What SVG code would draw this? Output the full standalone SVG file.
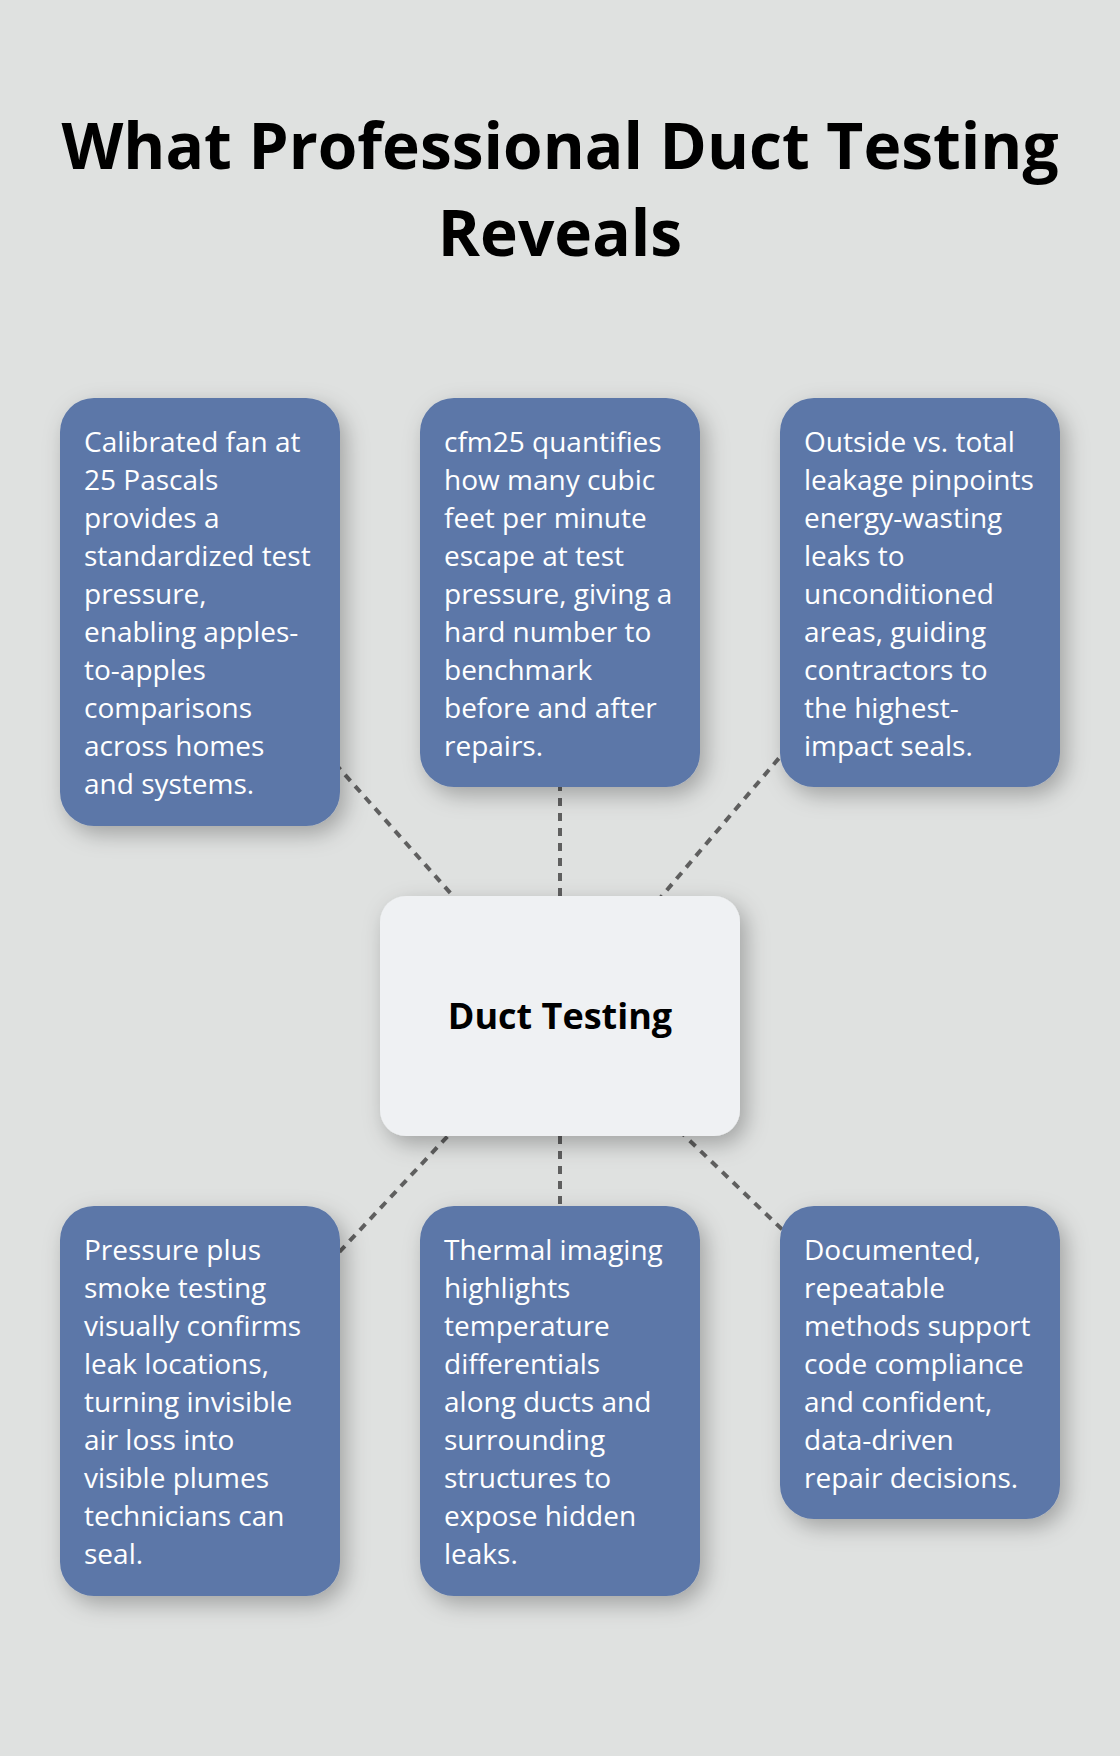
<svg xmlns="http://www.w3.org/2000/svg" width="1120" height="1756" viewBox="0 0 1120 1756">
<defs>
<style>
.bg{fill:#dfe1e0}
.title{font-family:"Open Sans","Noto Sans",sans-serif;font-weight:700;font-size:64px;fill:#000;text-anchor:middle}
.card{fill:#5c77a8}
.hub{fill:#eff1f3}
.txt{font-family:"Open Sans","Noto Sans",sans-serif;font-size:28px;fill:#ffffff}
.hubtxt{font-family:"Open Sans","Noto Sans",sans-serif;font-weight:700;font-size:36px;fill:#000;text-anchor:middle}
.conn{stroke:#5f5f5f;stroke-width:4;stroke-dasharray:8 7;fill:none}
</style>
<filter id="sh" x="-25%" y="-25%" width="160%" height="160%">
<feDropShadow dx="6" dy="8" stdDeviation="11" flood-color="#000" flood-opacity="0.28"/>
</filter>
</defs>
<rect class="bg" x="0" y="0" width="1120" height="1756"/>
<g id="title">
<text class="title" x="560" y="169">What Professional Duct Testing</text>
<text class="title" x="560" y="256">Reveals</text>
</g>
<g id="connectors">
<line class="conn" x1="560" y1="1016" x2="200" y2="612"/>
<line class="conn" x1="560" y1="1016" x2="560" y2="592"/>
<line class="conn" x1="560" y1="1016" x2="920" y2="592"/>
<line class="conn" x1="560" y1="1016" x2="200" y2="1401"/>
<line class="conn" x1="560" y1="1016" x2="560" y2="1401"/>
<line class="conn" x1="560" y1="1016" x2="920" y2="1362"/>
</g>
<g id="node-hub">
<rect class="hub" filter="url(#sh)" x="380" y="896" width="360" height="240" rx="26"/>
<text class="hubtxt" x="560" y="1029">Duct Testing</text>
</g>
<g id="node-calibrated-fan">
<rect class="card" filter="url(#sh)" x="60" y="398" width="280" height="428" rx="34"/>
<text class="txt" x="84" y="452"><tspan x="84">Calibrated fan at</tspan><tspan x="84" dy="38">25 Pascals</tspan><tspan x="84" dy="38">provides a</tspan><tspan x="84" dy="38">standardized test</tspan><tspan x="84" dy="38">pressure,</tspan><tspan x="84" dy="38">enabling apples-</tspan><tspan x="84" dy="38">to-apples</tspan><tspan x="84" dy="38">comparisons</tspan><tspan x="84" dy="38">across homes</tspan><tspan x="84" dy="38">and systems.</tspan></text>
</g>
<g id="node-cfm25">
<rect class="card" filter="url(#sh)" x="420" y="398" width="280" height="389" rx="34"/>
<text class="txt" x="444" y="452"><tspan x="444">cfm25 quantifies</tspan><tspan x="444" dy="38">how many cubic</tspan><tspan x="444" dy="38">feet per minute</tspan><tspan x="444" dy="38">escape at test</tspan><tspan x="444" dy="38">pressure, giving a</tspan><tspan x="444" dy="38">hard number to</tspan><tspan x="444" dy="38">benchmark</tspan><tspan x="444" dy="38">before and after</tspan><tspan x="444" dy="38">repairs.</tspan></text>
</g>
<g id="node-outside-vs-total">
<rect class="card" filter="url(#sh)" x="780" y="398" width="280" height="389" rx="34"/>
<text class="txt" x="804" y="452"><tspan x="804">Outside vs. total</tspan><tspan x="804" dy="38">leakage pinpoints</tspan><tspan x="804" dy="38">energy-wasting</tspan><tspan x="804" dy="38">leaks to</tspan><tspan x="804" dy="38">unconditioned</tspan><tspan x="804" dy="38">areas, guiding</tspan><tspan x="804" dy="38">contractors to</tspan><tspan x="804" dy="38">the highest-</tspan><tspan x="804" dy="38">impact seals.</tspan></text>
</g>
<g id="node-smoke-testing">
<rect class="card" filter="url(#sh)" x="60" y="1206" width="280" height="390" rx="34"/>
<text class="txt" x="84" y="1260"><tspan x="84">Pressure plus</tspan><tspan x="84" dy="38">smoke testing</tspan><tspan x="84" dy="38">visually confirms</tspan><tspan x="84" dy="38">leak locations,</tspan><tspan x="84" dy="38">turning invisible</tspan><tspan x="84" dy="38">air loss into</tspan><tspan x="84" dy="38">visible plumes</tspan><tspan x="84" dy="38">technicians can</tspan><tspan x="84" dy="38">seal.</tspan></text>
</g>
<g id="node-thermal-imaging">
<rect class="card" filter="url(#sh)" x="420" y="1206" width="280" height="390" rx="34"/>
<text class="txt" x="444" y="1260"><tspan x="444">Thermal imaging</tspan><tspan x="444" dy="38">highlights</tspan><tspan x="444" dy="38">temperature</tspan><tspan x="444" dy="38">differentials</tspan><tspan x="444" dy="38">along ducts and</tspan><tspan x="444" dy="38">surrounding</tspan><tspan x="444" dy="38">structures to</tspan><tspan x="444" dy="38">expose hidden</tspan><tspan x="444" dy="38">leaks.</tspan></text>
</g>
<g id="node-documented-methods">
<rect class="card" filter="url(#sh)" x="780" y="1206" width="280" height="313" rx="34"/>
<text class="txt" x="804" y="1260"><tspan x="804">Documented,</tspan><tspan x="804" dy="38">repeatable</tspan><tspan x="804" dy="38">methods support</tspan><tspan x="804" dy="38">code compliance</tspan><tspan x="804" dy="38">and confident,</tspan><tspan x="804" dy="38">data-driven</tspan><tspan x="804" dy="38">repair decisions.</tspan></text>
</g>
</svg>
